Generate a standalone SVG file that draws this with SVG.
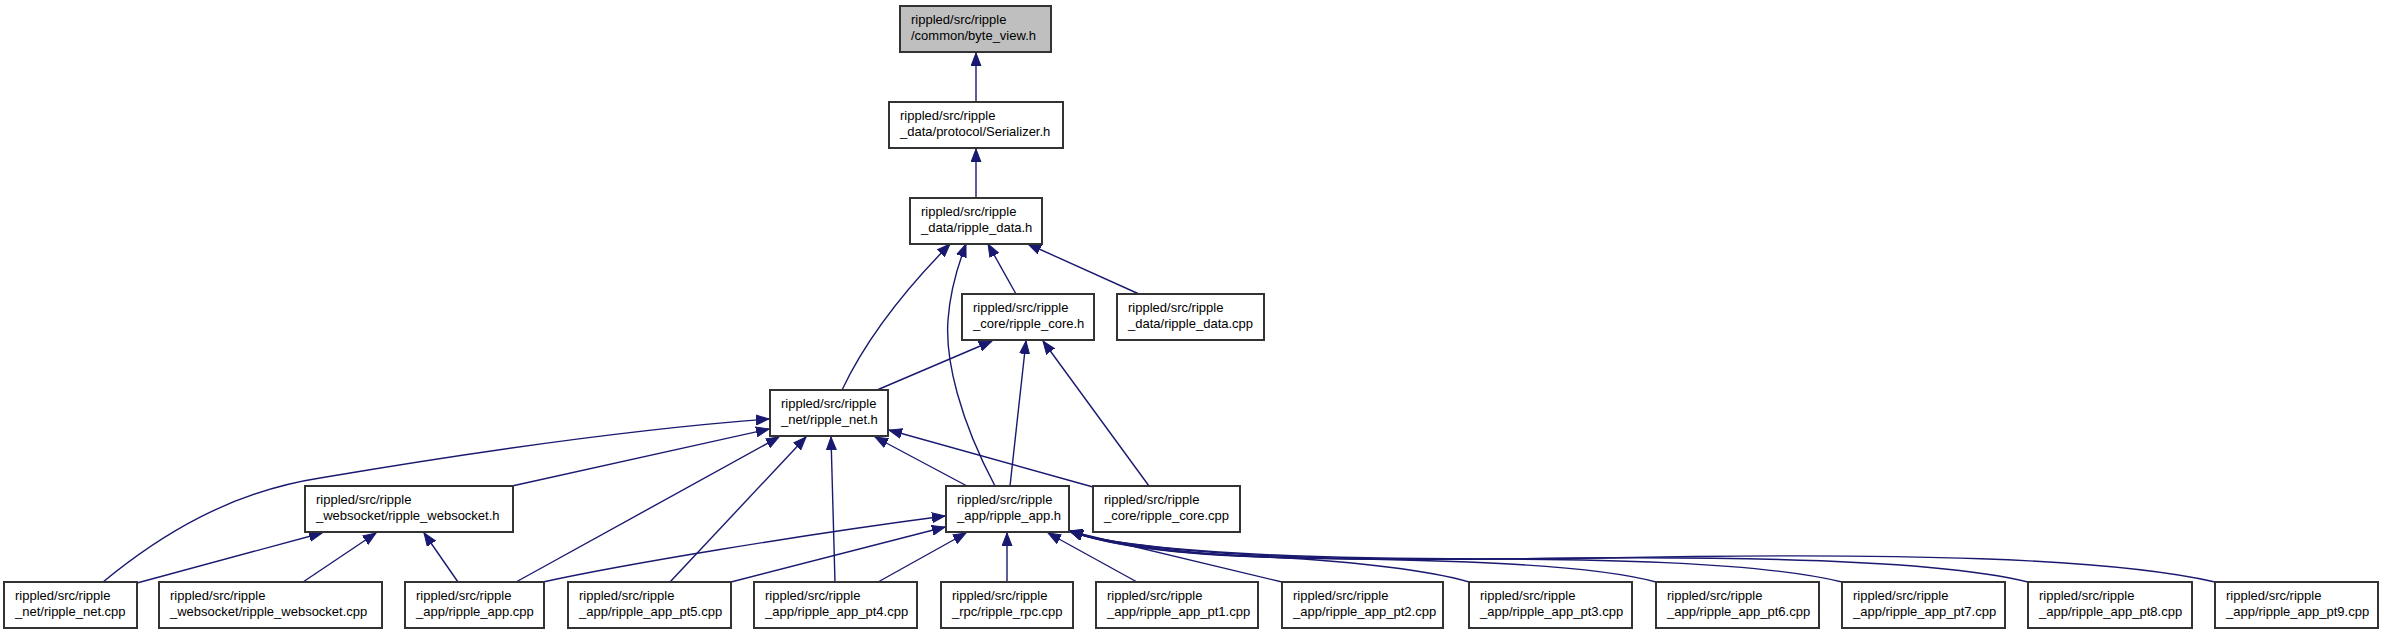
<svg xmlns="http://www.w3.org/2000/svg" width="2384" height="635" viewBox="0 0 2384 635">
<style>
.n rect{fill:#ffffff;stroke:#333333;stroke-width:2}
.n text{font-family:"Liberation Sans",Arial,sans-serif;font-size:13px;fill:#000000}
.e path{fill:none;stroke:#191970;stroke-width:1.4;marker-end:url(#arr)}
</style>
<defs>
<marker id="arr" markerUnits="userSpaceOnUse" markerWidth="14" markerHeight="11" viewBox="0 0 14 11" refX="13" refY="5.5" orient="auto">
<path d="M0,0.5 L13,5.5 L0,10.5 z" fill="#191970" stroke="#191970" stroke-width="1"/>
</marker>
</defs>
<rect width="2384" height="635" fill="#ffffff"/>
<g id="connectors" class="e">
<path d="M976,102 L976,53"/>
<path d="M976,198 L976,149"/>
<path d="M1016,294 L988,244"/>
<path d="M1139,294 L1028,244"/>
<path d="M842,390 Q875,320 950,244"/>
<path d="M995,486 C960,420 945,360 948,320 C950,290 958,265 966,244"/>
<path d="M877,390 L992,341"/>
<path d="M1010,486 L1026,341"/>
<path d="M1149,486 L1043,341"/>
<path d="M103,582 C160,535 230,492 320,478 C450,456 620,430 769,419"/>
<path d="M512,486 L769,429"/>
<path d="M516,582 L779,437"/>
<path d="M670,582 L806,437"/>
<path d="M835,582 L831,437"/>
<path d="M967,486 L875,437"/>
<path d="M1093,487 L889,430"/>
<path d="M137,583 L322,533"/>
<path d="M303,582 L376,533"/>
<path d="M458,582 L424,533"/>
<path d="M543,582 C620,565 800,535 945,516"/>
<path d="M731,582 L945,527"/>
<path d="M878,582 L966,533"/>
<path d="M1007,582 L1007,533"/>
<path d="M1137,582 L1048,533"/>
<path d="M1282,582 L1069,531"/>
<path d="M1469,582 C1420,568 1330,560 1250,556 C1170,552 1110,545 1070,531"/>
<path d="M1656,582 C1590,564 1450,560 1300,558 C1180,556 1110,546 1070,531"/>
<path d="M1842,582 C1760,562 1600,558 1400,559 C1200,560 1110,546 1070,531"/>
<path d="M2028,582 C1940,560 1750,555 1500,559 C1250,562 1110,546 1070,531"/>
<path d="M2215,582 C2110,558 1900,552 1600,558 C1250,563 1110,546 1070,531"/>
</g>
<g id="node1" class="n"><rect x="900" y="6" width="151" height="46" style="fill:#bfbfbf"/><text x="911" y="24">rippled/src/ripple</text><text x="911" y="40">/common/byte_view.h</text></g>
<g id="node2" class="n"><rect x="889" y="102" width="174" height="46"/><text x="900" y="120">rippled/src/ripple</text><text x="900" y="136">_data/protocol/Serializer.h</text></g>
<g id="node3" class="n"><rect x="910" y="198" width="132" height="46"/><text x="921" y="216">rippled/src/ripple</text><text x="921" y="232">_data/ripple_data.h</text></g>
<g id="node4" class="n"><rect x="962" y="294" width="132" height="46"/><text x="973" y="312">rippled/src/ripple</text><text x="973" y="328">_core/ripple_core.h</text></g>
<g id="node5" class="n"><rect x="1117" y="294" width="147" height="46"/><text x="1128" y="312">rippled/src/ripple</text><text x="1128" y="328">_data/ripple_data.cpp</text></g>
<g id="node6" class="n"><rect x="770" y="390" width="118" height="46"/><text x="781" y="408">rippled/src/ripple</text><text x="781" y="424">_net/ripple_net.h</text></g>
<g id="node7" class="n"><rect x="305" y="486" width="208" height="46"/><text x="316" y="504">rippled/src/ripple</text><text x="316" y="520">_websocket/ripple_websocket.h</text></g>
<g id="node8" class="n"><rect x="946" y="486" width="123" height="46"/><text x="957" y="504">rippled/src/ripple</text><text x="957" y="520">_app/ripple_app.h</text></g>
<g id="node9" class="n"><rect x="1093" y="486" width="147" height="46"/><text x="1104" y="504">rippled/src/ripple</text><text x="1104" y="520">_core/ripple_core.cpp</text></g>
<g id="node10" class="n"><rect x="4" y="582" width="133" height="46"/><text x="15" y="600">rippled/src/ripple</text><text x="15" y="616">_net/ripple_net.cpp</text></g>
<g id="node11" class="n"><rect x="159" y="582" width="223" height="46"/><text x="170" y="600">rippled/src/ripple</text><text x="170" y="616">_websocket/ripple_websocket.cpp</text></g>
<g id="node12" class="n"><rect x="405" y="582" width="139" height="46"/><text x="416" y="600">rippled/src/ripple</text><text x="416" y="616">_app/ripple_app.cpp</text></g>
<g id="node13" class="n"><rect x="568" y="582" width="163" height="46"/><text x="579" y="600">rippled/src/ripple</text><text x="579" y="616">_app/ripple_app_pt5.cpp</text></g>
<g id="node14" class="n"><rect x="754" y="582" width="163" height="46"/><text x="765" y="600">rippled/src/ripple</text><text x="765" y="616">_app/ripple_app_pt4.cpp</text></g>
<g id="node15" class="n"><rect x="941" y="582" width="132" height="46"/><text x="952" y="600">rippled/src/ripple</text><text x="952" y="616">_rpc/ripple_rpc.cpp</text></g>
<g id="node16" class="n"><rect x="1096" y="582" width="162" height="46"/><text x="1107" y="600">rippled/src/ripple</text><text x="1107" y="616">_app/ripple_app_pt1.cpp</text></g>
<g id="node17" class="n"><rect x="1282" y="582" width="161" height="46"/><text x="1293" y="600">rippled/src/ripple</text><text x="1293" y="616">_app/ripple_app_pt2.cpp</text></g>
<g id="node18" class="n"><rect x="1469" y="582" width="163" height="46"/><text x="1480" y="600">rippled/src/ripple</text><text x="1480" y="616">_app/ripple_app_pt3.cpp</text></g>
<g id="node19" class="n"><rect x="1656" y="582" width="163" height="46"/><text x="1667" y="600">rippled/src/ripple</text><text x="1667" y="616">_app/ripple_app_pt6.cpp</text></g>
<g id="node20" class="n"><rect x="1842" y="582" width="163" height="46"/><text x="1853" y="600">rippled/src/ripple</text><text x="1853" y="616">_app/ripple_app_pt7.cpp</text></g>
<g id="node21" class="n"><rect x="2028" y="582" width="164" height="46"/><text x="2039" y="600">rippled/src/ripple</text><text x="2039" y="616">_app/ripple_app_pt8.cpp</text></g>
<g id="node22" class="n"><rect x="2215" y="582" width="163" height="46"/><text x="2226" y="600">rippled/src/ripple</text><text x="2226" y="616">_app/ripple_app_pt9.cpp</text></g>
</svg>
